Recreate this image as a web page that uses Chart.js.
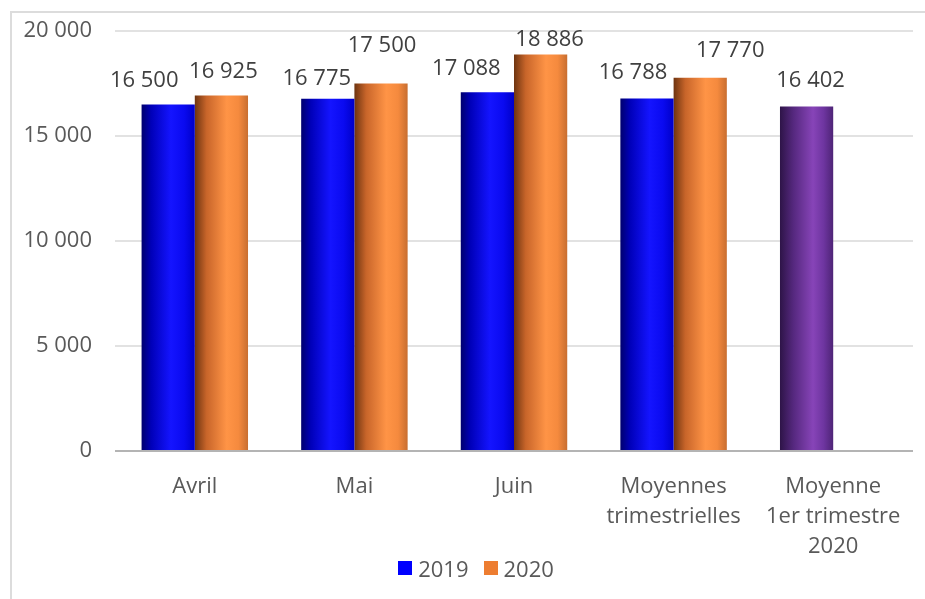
<!DOCTYPE html>
<html>
<head>
<meta charset="utf-8">
<script src="https://cdn.jsdelivr.net/npm/chart.js@4/dist/chart.umd.min.js"></script>
<style>
html,body{margin:0;padding:0;background:#fff;}
#wrap{position:relative;width:925px;height:599px;overflow:hidden;}
#frame{position:absolute;left:10px;top:11px;width:960px;height:640px;border-left:2px solid #dcdcdc;border-top:2px solid #dcdcdc;box-sizing:border-box;}
canvas{position:absolute;left:0;top:0;}
</style>
</head>
<body>
<div id="wrap">
<div id="frame"></div>
<canvas id="c" width="925" height="599"></canvas>
</div>
<script>
// ---- data ----
const categories = ['Avril', 'Mai', 'Juin', ['Moyennes', 'trimestrielles'], ['Moyenne', '1er trimestre', '2020']];
const seriesNames = ['2019', '2020'];
const values2019 = [16500, 16775, 17088, 16788, 16402];
const values2020 = [16925, 17500, 18886, 17770, null];
const yTicks = [0, 5000, 10000, 15000, 20000];

// ---- styles ----
const barKind2019 = ['blue', 'blue', 'blue', 'blue', 'purple'];
const barKind2020 = ['orange', 'orange', 'orange', 'orange', 'orange'];
const gradients = {
  blue:   [[0, '#00006e'], [0.18, '#0000b8'], [0.55, '#1414ff'], [0.8, '#0a0af0'], [1, '#0000c8']],
  orange: [[0, '#6e3410'], [0.22, '#c8652a'], [0.6, '#ff9446'], [0.82, '#f58a3e'], [1, '#c86e30']],
  purple: [[0, '#2e1448'], [0.25, '#55287e'], [0.62, '#8744b8'], [0.82, '#6e35a0'], [1, '#4e2476']]
};
const legendColors = ['#0000ff', '#ed7d31'];
// label offsets (dx, height above bar top) as drawn in the original
const labelOffsets = [
  [[-24, 24], [-11, 20], [-21, 23], [-14, 26], [4, 26]],
  [[2, 24], [1, 38], [9, 15], [30, 27], [0, 24]]
];
const CAT_PCT = 0.667;
const FONT = '"Open Sans", "DejaVu Sans", sans-serif';
const FSIZE = 22;

function fmt(v) { return String(v).replace(/\B(?=(\d{3})+(?!\d))/g, ' '); }

function barGradient(ctx, kinds) {
  const chart = ctx.chart;
  const kind = kinds[ctx.dataIndex] || 'blue';
  const stops = gradients[kind];
  const xs = chart.scales && chart.scales.x;
  if (!xs || !chart.chartArea) return stops[2][1];
  const n = categories.length;
  const catW = (xs.right - xs.left) / n;
  const center = xs.getPixelForValue(ctx.dataIndex);
  const barW = catW * CAT_PCT / 2;
  const left = center - catW * CAT_PCT / 2 + ctx.datasetIndex * barW;
  const g = chart.ctx.createLinearGradient(left, 0, left + barW, 0);
  stops.forEach(s => g.addColorStop(s[0], s[1]));
  return g;
}

const valueLabels = {
  id: 'valueLabels',
  afterDatasetsDraw(chart) {
    const c = chart.ctx;
    c.save();
    c.font = FSIZE + 'px ' + FONT;
    c.fillStyle = '#404040';
    c.textAlign = 'center';
    c.textBaseline = 'middle';
    chart.data.datasets.forEach((ds, di) => {
      const meta = chart.getDatasetMeta(di);
      meta.data.forEach((el, i) => {
        const v = ds.data[i];
        if (v === null || v === undefined) return;
        const off = labelOffsets[di][i];
        c.fillText(fmt(v), el.x + off[0], el.y - off[1]);
      });
    });
    c.restore();
  }
};

// legend drawn below the axis labels, centred like the original
const bottomLegend = {
  id: 'bottomLegend',
  afterDraw(chart) {
    const c = chart.ctx;
    const box = 14, gapText = 6, gapItem = 15, cy = 571, centerX = 476;
    c.save();
    c.font = FSIZE + 'px ' + FONT;
    c.textBaseline = 'middle';
    c.textAlign = 'left';
    const widths = seriesNames.map(s => c.measureText(s).width);
    const total = widths.reduce((a, w) => a + box + gapText + w, 0) + gapItem * (seriesNames.length - 1);
    let x = centerX - total / 2;
    seriesNames.forEach((s, i) => {
      c.fillStyle = legendColors[i];
      c.fillRect(Math.round(x), cy - 10, box, box);
      c.fillStyle = '#595959';
      c.fillText(s, x + box + gapText, cy);
      x += box + gapText + widths[i] + gapItem;
    });
    c.restore();
  }
};

new Chart(document.getElementById('c'), {
  type: 'bar',
  data: {
    labels: categories,
    datasets: [
      { label: seriesNames[0], data: values2019, backgroundColor: ctx => barGradient(ctx, barKind2019),
        categoryPercentage: CAT_PCT, barPercentage: 1 },
      { label: seriesNames[1], data: values2020, backgroundColor: ctx => barGradient(ctx, barKind2020),
        categoryPercentage: CAT_PCT, barPercentage: 1 }
    ]
  },
  options: {
    responsive: false,
    animation: false,
    devicePixelRatio: 1,
    layout: { padding: { left: 0, right: 12, top: 31, bottom: 0 } },
    plugins: {
      tooltip: { enabled: false },
      legend: { display: false }
    },
    scales: {
      x: {
        grid: { display: false, drawTicks: false },
        border: { display: false },
        ticks: {
          color: '#595959',
          font: { family: FONT, size: FSIZE, lineHeight: 30 / FSIZE },
          padding: 21,
          maxRotation: 0, autoSkip: false
        },
        afterFit(scale) { scale.height = 148; }
      },
      y: {
        min: 0, max: 20000,
        afterBuildTicks(scale) { scale.ticks = yTicks.map(v => ({ value: v })); },
        grid: {
          drawTicks: false,
          lineWidth: 2,
          color: ctx => (ctx.tick && ctx.tick.value === 0) ? '#b4b4b4' : '#e2e2e2'
        },
        border: { display: false },
        ticks: {
          color: '#595959',
          font: { family: FONT, size: FSIZE },
          padding: 23,
          callback: v => fmt(v)
        },
        afterFit(scale) {
          scale.width = 115;
          scale.paddingTop = 12;
          scale.paddingBottom = 12;
        }
      }
    }
  },
  plugins: [valueLabels, bottomLegend]
});
</script>
</body>
</html>
